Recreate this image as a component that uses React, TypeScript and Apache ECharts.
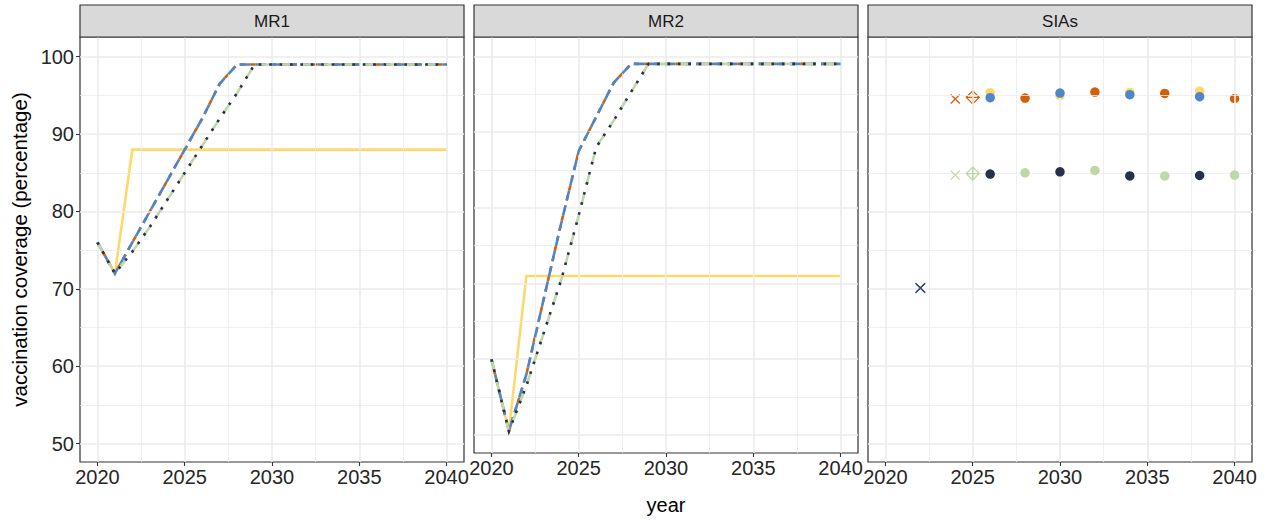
import React, { useEffect, useRef } from "react";
import * as echarts from "echarts";

// ---------- data ----------
const years = [2020, 2021, 2022, 2023, 2024, 2025, 2026, 2027, 2028, 2029, 2030, 2031, 2032, 2033, 2034, 2035, 2036, 2037, 2038, 2039, 2040];

// MR1 coverage
const mr1Yellow = [76, 72, 88, 88, 88, 88, 88, 88, 88, 88, 88, 88, 88, 88, 88, 88, 88, 88, 88, 88, 88];
const mr1Orange = [76, 72, 76, 80, 84, 88, 92, 96.5, 99, 99, 99, 99, 99, 99, 99, 99, 99, 99, 99, 99, 99];
const mr1Blue = [76, 72, 76, 80, 84, 88, 92, 96.5, 99, 99, 99, 99, 99, 99, 99, 99, 99, 99, 99, 99, 99];
const mr1Green = [76, 72, 74.8, 78, 81.5, 85, 88.5, 92, 95.3, 99, 99, 99, 99, 99, 99, 99, 99, 99, 99, 99, 99];
const mr1Navy = [76, 72, 74.8, 78, 81.5, 85, 88.5, 92, 95.3, 99, 99, 99, 99, 99, 99, 99, 99, 99, 99, 99, 99];

// MR2 coverage
const mr2Yellow = [60, 50.5, 71, 71, 71, 71, 71, 71, 71, 71, 71, 71, 71, 71, 71, 71, 71, 71, 71, 71, 71];
const mr2Orange = [60, 50.5, 58, 68, 78, 87.5, 92, 96.5, 99, 99, 99, 99, 99, 99, 99, 99, 99, 99, 99, 99, 99];
const mr2Blue = [60, 50.5, 58, 68, 78, 87.5, 92, 96.5, 99, 99, 99, 99, 99, 99, 99, 99, 99, 99, 99, 99, 99];
const mr2Green = [60, 50.5, 56.5, 63.5, 70.5, 79, 88, 91.5, 95.3, 99, 99, 99, 99, 99, 99, 99, 99, 99, 99, 99, 99];
const mr2Navy = [60, 50.5, 56.5, 63.5, 70.5, 79, 88, 91.5, 95.3, 99, 99, 99, 99, 99, 99, 99, 99, 99, 99, 99, 99];

// SIAs: [year, coverage]
const siaYellowDots = [[2026, 95.35], [2030, 95.0], [2034, 95.4], [2038, 95.56]];
const siaOrangeDots = [[2028, 94.66], [2032, 95.43], [2036, 95.26], [2040, 94.6]];
const siaOrangeCross = [[2024, 94.53]];
const siaOrangeDiamond = [[2025, 94.75]];
const siaBlueDots = [[2026, 94.7], [2030, 95.3], [2034, 95.1], [2038, 94.83]];
const siaBlueCross = [[2022, 70.1]];
const siaGreenDots = [[2028, 85.0], [2032, 85.3], [2036, 84.6], [2040, 84.7]];
const siaGreenCross = [[2024, 84.7]];
const siaGreenDiamond = [[2025, 84.9]];
const siaNavyDots = [[2026, 84.83], [2030, 85.13], [2034, 84.6], [2038, 84.65]];
const siaNavyCross = [[2022, 70.1]];

const panelNames = ["MR1", "MR2", "SIAs"];
const xMajorTicks = [2020, 2025, 2030, 2035, 2040];
const xMinorTicks = [2022.5, 2027.5, 2032.5, 2037.5];
const yMajorTicks = [50, 60, 70, 80, 90, 100];
const yMinorTicks = [55, 65, 75, 85, 95];

// ---------- styles ----------
const C = {
  yellow: "#FFD86B",
  orange: "#D2600A",
  blue: "#4E86C8",
  green: "#C0D8A5",
  navy: "#25304D",
};
const FONT = "Liberation Sans, Arial, Helvetica, sans-serif";
const LW = 2.6;
const gridLefts = [80, 474, 868];
const GRID_TOP = 37;
const GRID_W = 384;
const GRID_H = 425;

const crossPath = "path://M-1,-1L1,1M-1,1L1,-1";
const diamondPlusPath = "path://M0,-1L1,0L0,1L-1,0Z M0,-1L0,1 M-1,0L1,0";

function pairs(vals: number[]) {
  return years.map((y, i) => [y, vals[i]]);
}

export default function App() {
  const ref = useRef<HTMLDivElement>(null);
  useEffect(() => {
    if (!ref.current) return;
    const chart = echarts.init(ref.current, undefined, { renderer: "svg" });

    const grids = gridLefts.map((l) => ({
      left: l,
      top: GRID_TOP,
      width: GRID_W,
      height: GRID_H,
      show: true,
      backgroundColor: "#FFFFFF",
      borderColor: "#333333",
      borderWidth: 1.2,
      containLabel: false,
    }));

    const xAxes = gridLefts.map((_, i) => ({
      type: "value",
      gridIndex: i,
      min: 2019,
      max: 2041,
      name: i === 1 ? "year" : "",
      nameLocation: "middle",
      nameGap: 42,
      nameTextStyle: { fontFamily: FONT, fontSize: 20, color: "#000" },
      axisLine: { show: false },
      axisTick: { show: true, length: 4, lineStyle: { color: "#333", width: 1.1 }, customValues: xMajorTicks },
      axisLabel: {
        show: true,
        customValues: xMajorTicks,
        formatter: (v: number) => String(v),
        fontFamily: FONT,
        fontSize: 20,
        color: "#262626",
        margin: 5,
      },
      splitLine: { show: false },
    }));

    const yAxes = gridLefts.map((_, i) => ({
      type: "value",
      gridIndex: i,
      min: 47.62,
      max: 102.55,
      name: i === 0 ? "vaccination coverage (percentage)" : "",
      nameLocation: "middle",
      nameGap: 50,
      nameRotate: 90,
      nameTextStyle: { fontFamily: FONT, fontSize: 20.5, color: "#000" },
      axisLine: { show: false },
      axisTick: { show: i === 0, length: 4, lineStyle: { color: "#333", width: 1.1 }, customValues: yMajorTicks },
      axisLabel: {
        show: i === 0,
        customValues: yMajorTicks,
        formatter: (v: number) => String(v),
        fontFamily: FONT,
        fontSize: 20,
        color: "#262626",
        margin: 6,
      },
      splitLine: { show: false },
    }));

    const gridLineSeries = gridLefts.map((_, i) => ({
      type: "line",
      xAxisIndex: i,
      yAxisIndex: i,
      data: [[2030, 75]],
      symbol: "none",
      lineStyle: { width: 0, opacity: 0 },
      z: 1,
      silent: true,
      markLine: {
        silent: true,
        symbol: ["none", "none"],
        label: { show: false },
        animation: false,
        data: [
          ...xMinorTicks.map((v) => ({ xAxis: v, lineStyle: { color: "#EBEBEB", width: 0.8, type: "solid" } })),
          ...yMinorTicks.map((v) => ({ yAxis: v, lineStyle: { color: "#EBEBEB", width: 0.8, type: "solid" } })),
          ...xMajorTicks.map((v) => ({ xAxis: v, lineStyle: { color: "#EBEBEB", width: 1.6, type: "solid" } })),
          ...yMajorTicks.map((v) => ({ yAxis: v, lineStyle: { color: "#EBEBEB", width: 1.6, type: "solid" } })),
        ],
      },
    }));

    const lineSeries = (idx: number, name: string, vals: number[], color: string, dash: any, z: number) => ({
      type: "line",
      name,
      xAxisIndex: idx,
      yAxisIndex: idx,
      data: pairs(vals),
      symbol: "none",
      z,
      lineStyle: { color, width: LW, type: dash, cap: "butt", join: "miter" },
    });

    const dashes = {
      yellow: "solid",
      orange: [LW * 2, LW * 2],
      blue: [LW * 4, LW * 2],
      green: [LW * 4, LW * 4],
      navy: [LW * 1, LW * 3],
    };

    const lines: any[] = [];
    const sets = [
      [mr1Yellow, mr1Orange, mr1Blue, mr1Green, mr1Navy],
      [mr2Yellow, mr2Orange, mr2Blue, mr2Green, mr2Navy],
    ];
    sets.forEach((s, i) => {
      lines.push(lineSeries(i, "yellow", s[0], C.yellow, dashes.yellow, 3));
      lines.push(lineSeries(i, "orange", s[1], C.orange, dashes.orange, 4));
      lines.push(lineSeries(i, "blue", s[2], C.blue, dashes.blue, 5));
      lines.push(lineSeries(i, "green", s[3], C.green, dashes.green, 6));
      lines.push(lineSeries(i, "navy", s[4], C.navy, dashes.navy, 7));
    });

    const dots = (data: number[][], color: string, z: number) => ({
      type: "scatter",
      xAxisIndex: 2,
      yAxisIndex: 2,
      data,
      symbol: "circle",
      symbolSize: 9.5,
      z,
      itemStyle: { color, opacity: 1 },
    });
    const outline = (data: number[][], color: string, sym: string, size: number, z: number) => ({
      type: "scatter",
      xAxisIndex: 2,
      yAxisIndex: 2,
      data,
      symbol: sym,
      symbolSize: size,
      z,
      itemStyle: { color: "none", borderColor: color, borderWidth: 1.3, opacity: 1 },
    });

    const scatters = [
      dots(siaYellowDots, C.yellow, 3),
      dots(siaOrangeDots, C.orange, 4),
      outline(siaOrangeCross, C.orange, crossPath, 9, 4),
      outline(siaOrangeDiamond, C.orange, diamondPlusPath, 13, 4),
      dots(siaBlueDots, C.blue, 5),
      outline(siaBlueCross, C.blue, crossPath, 10, 5),
      dots(siaGreenDots, C.green, 6),
      outline(siaGreenCross, C.green, crossPath, 9, 6),
      outline(siaGreenDiamond, C.green, diamondPlusPath, 13, 6),
      dots(siaNavyDots, C.navy, 7),
      outline(siaNavyCross, "#3A4560", crossPath, 9, 7),
    ];

    const strips = gridLefts.map((l, i) => ({
      type: "group",
      children: [
        {
          type: "rect",
          shape: { x: l, y: 5, width: GRID_W, height: GRID_TOP - 5 },
          style: { fill: "#D9D9D9", stroke: "#333333", lineWidth: 1.2 },
          z: 10,
        },
        {
          type: "text",
          x: l + GRID_W / 2,
          y: 5 + (GRID_TOP - 5) / 2,
          style: {
            text: panelNames[i],
            fontFamily: FONT,
            fontSize: 17,
            fill: "#1A1A1A",
            align: "center",
            verticalAlign: "middle",
          },
          z: 11,
        },
      ],
    }));

    chart.setOption({
      animation: false,
      backgroundColor: "#FFFFFF",
      grid: grids,
      xAxis: xAxes,
      yAxis: yAxes,
      series: [...gridLineSeries, ...lines, ...scatters],
      graphic: strips,
    } as any);

    return () => chart.dispose();
  }, []);

  return (
    <div
      ref={ref}
      style={{ position: "fixed", left: 0, top: 0, width: 1270, height: 520, background: "#fff" }}
    />
  );
}
